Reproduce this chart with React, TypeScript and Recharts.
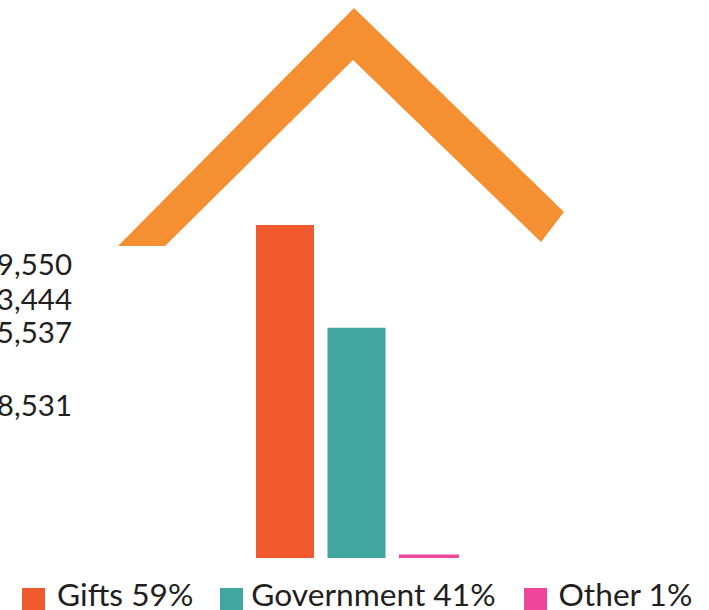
import React from 'react';
import { BarChart, Bar, XAxis, YAxis, Legend } from 'recharts';

const seriesNames = ['Gifts 59%', 'Government 41%', 'Other 1%'];
const seriesValues = [59, 40.8, 0.6];
const seriesColors = ['#F15A2E', '#41A69F', '#F0469A'];
const seriesWidths = [58, 58, 60];

// labels on the left, cut off by the page edge in the original
const tickValues = [52.1, 45.9, 39.9, 27.1];
const tickLabels = ['9,550', '3,444', '5,537', '8,531'];

const roofPoints = '118,246 165,246 353,60 541,242 564,212 354,8';
const roofColor = '#F59032';
const textColor = '#231F20';

const row: Record<string, string | number> = { name: 'All' };
seriesNames.forEach((n, i) => {
  row[n] = seriesValues[i];
});
const data = [row];

const iconGaps = [12, 8, 12];
const itemGaps = [27, 28, 0];

const LegendRow: React.FC<any> = ({ payload }) => (
  <div style={{ display: 'flex', alignItems: 'center', fontFamily: 'Lato', fontSize: 31.7, color: textColor, lineHeight: '32px', whiteSpace: 'nowrap' }}>
    {(payload || []).map((item: any, i: number) => (
      <div key={i} style={{ display: 'flex', alignItems: 'center', flexShrink: 0, marginRight: itemGaps[i] }}>
        <span style={{ width: 23, height: 22, marginTop: 9, marginRight: iconGaps[i], background: item.color, display: 'inline-block' }} />
        <span>{item.value}</span>
      </div>
    ))}
  </div>
);

const App: React.FC = () => (
  <div style={{ position: 'absolute', left: 0, top: 0, width: 709, height: 610, overflow: 'hidden', background: '#fff' }}>
    <svg width={709} height={610} style={{ position: 'absolute', left: 0, top: 0 }}>
      <polygon points={roofPoints} fill={roofColor} />
    </svg>
    <BarChart
      width={709}
      height={610}
      data={data}
      barGap={13.5}
      margin={{ top: 0, right: 244, bottom: 20, left: 0 }}
    >
      <XAxis dataKey="name" hide />
      <YAxis
        width={250}
        domain={[0, 98.9]}
        ticks={tickValues}
        interval={0}
        axisLine={false}
        tickLine={false}
        tickSize={0}
        tickMargin={178}
        tick={{ fill: textColor, fontFamily: 'Lato', fontSize: 29.5 }}
        tickFormatter={(v: number) => tickLabels[tickValues.indexOf(v)]}
      />
      <Legend
        verticalAlign="bottom"
        align="left"
        content={<LegendRow />}
        wrapperStyle={{ position: 'absolute', left: 22, top: 578, bottom: 'auto', width: 687, margin: 0 }}
      />
      {seriesNames.map((n, i) => (
        <Bar key={n} dataKey={n} name={n} fill={seriesColors[i]} barSize={seriesWidths[i]} isAnimationActive={false} />
      ))}
    </BarChart>
  </div>
);

export default App;
